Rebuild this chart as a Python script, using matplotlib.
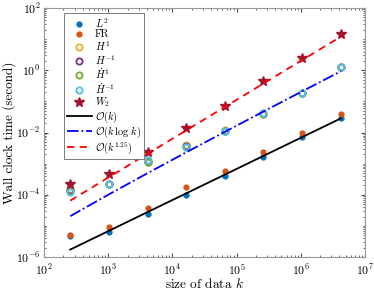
import matplotlib
matplotlib.use('Agg')
import matplotlib.pyplot as plt
import numpy as np
from matplotlib.ticker import LogLocator, NullFormatter

plt.rcParams['font.family'] = 'cmr10'
plt.rcParams['mathtext.fontset'] = 'cm'
plt.rcParams['axes.formatter.use_mathtext'] = True

# data sizes k = 4^4 ... 4^11
k = [256, 1024, 4096, 16384, 65536, 262144, 1048576, 4194304]

# wall clock times (log10 seconds)
log_L2 = [-5.33, -5.21, -4.62, -4.01, -3.40, -2.78, -2.16, -1.55]
log_FR = [-5.30, -5.03, -4.42, -3.75, -3.23, -2.64, -2.03, -1.39]
log_H1 = [-3.82, -3.64, -2.92, -2.40, -1.93, -1.38, -0.72, 0.11]
log_Hm1 = [-3.86, -3.66, -2.94, -2.44, -1.95, -1.39, -0.72, 0.10]
log_Hd1 = [-3.88, -3.67, -2.96, -2.45, -1.96, -1.40, -0.73, 0.10]
log_Hdm1 = [-3.92, -3.65, -2.87, -2.46, -1.94, -1.38, -0.72, 0.10]
log_W2 = [-3.66, -3.32, -2.62, -1.87, -1.14, -0.35, 0.40, 1.15]

# reference line constants
c_lin = 10**-8.17
c_klogk = 10**-7.84
c_k125 = 10**-7.20

k = np.array(k, dtype=float)

fig = plt.figure(figsize=(3.74, 2.9), dpi=100)
ax = fig.add_axes([44/374, 1-257/290, 321/374, 249/290])

ax.plot(k, 10**np.array(log_L2), 'o', color='#0072BD', ms=3.5, label=r'$L^2$')
ax.plot(k, 10**np.array(log_FR), 'o', color='#D95319', ms=3.5, label='FR')
ax.plot(k, 10**np.array(log_H1), 'o', mfc='none', mec='#EDB120', mew=1.3, ms=4.5, label=r'$H^1$')
ax.plot(k, 10**np.array(log_Hm1), 'o', mfc='none', mec='#7E2F8E', mew=1.3, ms=4.5, label=r'$H^{-1}$')
ax.plot(k, 10**np.array(log_Hd1), 'o', mfc='none', mec='#77AC30', mew=1.3, ms=4.5, label=r'$\dot{H}^1$')
ax.plot(k, 10**np.array(log_Hdm1), 'o', mfc='none', mec='#4DBEEE', mew=1.3, ms=4.5, label=r'$\dot{H}^{-1}$')
ax.plot(k, 10**np.array(log_W2), '*', color='#A2142F', ms=7.5, label=r'$W_2$')
ax.plot(k, c_lin*k, '-', color='k', lw=1.3, label=r'$\mathcal{O}(k)$')
ax.plot(k, c_klogk*k*np.log(k), '-.', color='b', lw=1.3, label=r'$\mathcal{O}(k\,\log\,k)$')
ax.plot(k, c_k125*k**1.25, '--', color='r', lw=1.3, dashes=(4, 3), label=r'$\mathcal{O}(k^{1.25})$')

ax.set_xscale('log')
ax.set_yscale('log')
ax.set_xlim(1e2, 1e7)
ax.set_ylim(1e-6, 1e2)
ax.set_yticks([1e-6, 1e-4, 1e-2, 1e0, 1e2])
ax.yaxis.set_minor_locator(LogLocator(base=10, subs=np.arange(1, 10), numticks=20))
ax.yaxis.set_minor_formatter(NullFormatter())
ax.xaxis.set_minor_locator(LogLocator(base=10, subs=np.arange(2, 10), numticks=20))
ax.xaxis.set_minor_formatter(NullFormatter())
ax.tick_params(which='both', direction='in', top=True, right=True, labelsize=8.5, color='0.3')
ax.tick_params(which='major', length=3, pad=2.5)
ax.tick_params(axis='x', which='major', pad=4)
ax.tick_params(which='minor', length=1.5)
for s in ax.spines.values():
    s.set_color('0.6')
    s.set_linewidth(0.8)

ax.set_xlabel(r'size of data $k$', fontsize=9.5, labelpad=-1)
ax.set_ylabel('Wall clock time (second)', fontsize=9.5, labelpad=0)

leg = ax.legend(loc='upper left', fontsize=7.5, labelspacing=0.0, handlelength=2.4,
                handletextpad=0.3, borderpad=0.3, fancybox=False, framealpha=1,
                edgecolor='0.4', bbox_to_anchor=(0.045, 1.0))
leg.get_frame().set_linewidth(0.6)

fig.savefig('out.png', dpi=100)
